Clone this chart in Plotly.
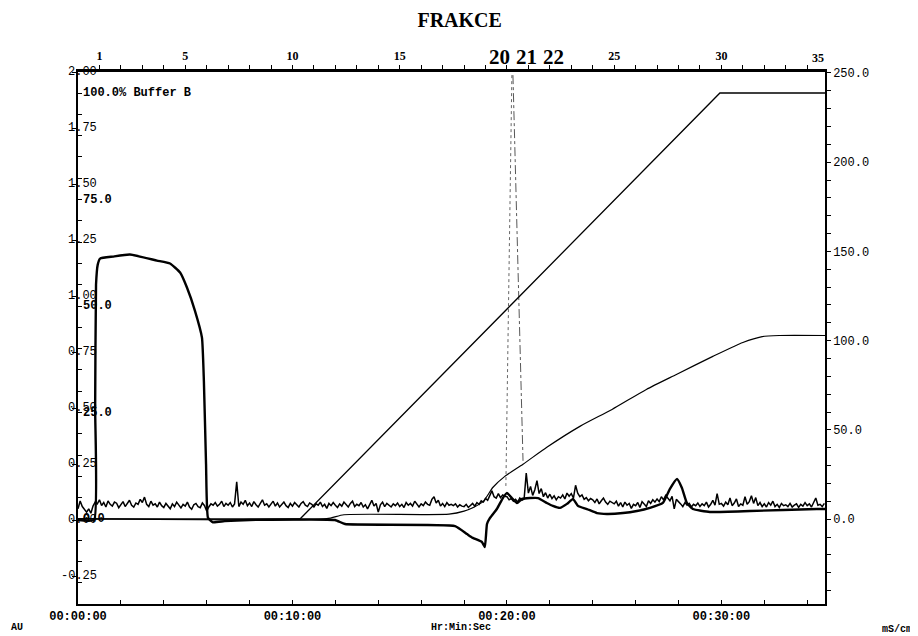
import plotly.graph_objects as go

# ---------------- data ----------------
# UV absorbance (AU), main thick trace
uv_t = [0, 0.75, 0.80, 0.84, 0.92, 1.03, 1.63, 2.42, 3.68, 4.29, 4.76, 5.08, 5.45, 5.78, 5.87, 5.97, 6.06, 6.29,
        6.85, 8.0, 11.98, 12.45, 17.58, 18.14, 18.41, 18.83, 18.97, 19.07, 19.21, 19.53, 19.81, 20.0, 20.23, 20.47,
        20.7, 21.07, 21.45, 21.86, 22.14, 22.47, 22.8, 23.08, 23.31, 23.73, 24.2, 24.66, 25.41, 26.06, 26.67,
        27.27, 27.6, 27.93, 28.16, 28.39, 28.67, 29.46, 31.33, 34.45, 34.83]
uv_au = [0, 0, 0.5, 1.05, 1.14, 1.167, 1.176, 1.185, 1.158, 1.145, 1.105, 1.038, 0.935, 0.814, 0.62, 0.25, 0.01, -0.01,
         -0.005, 0, 0, -0.018, -0.027, -0.063, -0.08, -0.098, -0.121, -0.018, 0.009, 0.049, 0.098, 0.121, 0.098, 0.076,
         0.094, 0.098, 0.098, 0.076, 0.063, 0.054, 0.072, 0.094, 0.063, 0.049, 0.031, 0.027, 0.031, 0.04, 0.054,
         0.076, 0.139, 0.183, 0.143, 0.076, 0.049, 0.036, 0.04, 0.049, 0.049]

# second (noisy) absorbance trace, sampled every 0.1 min
noise_au = [
    0.050, 0.085, 0.060, 0.045, 0.035, 0.050, 0.030, 0.062, 0.080, 0.072,
    0.090, 0.065, 0.078, 0.058, 0.085, 0.070, 0.062, 0.080, 0.075, 0.055,
    0.068, 0.082, 0.060, 0.074, 0.088, 0.066, 0.058, 0.076, 0.070, 0.092,
    0.078, 0.102, 0.070, 0.060, 0.084, 0.066, 0.072, 0.058, 0.080, 0.064,
    0.056, 0.074, 0.062, 0.050, 0.072, 0.060, 0.080, 0.066, 0.054, 0.070,
    0.062, 0.080, 0.058, 0.048, 0.068, 0.074, 0.060, 0.055, 0.076, 0.064,
    0.040, 0.058, 0.072, 0.066, 0.078, 0.062, 0.070, 0.084, 0.060, 0.074,
    0.066, 0.078, 0.058, 0.072, 0.170, 0.060, 0.080, 0.070, 0.088, 0.064,
    0.076, 0.060, 0.082, 0.068, 0.058, 0.074, 0.090, 0.066, 0.072, 0.058,
    0.070, 0.084, 0.062, 0.076, 0.058, 0.068, 0.080, 0.064, 0.056, 0.074,
    0.062, 0.078, 0.068, 0.058, 0.074, 0.082, 0.066, 0.060, 0.076, 0.070,
    0.058, 0.072, 0.066, 0.080, 0.060, 0.070, 0.052, 0.074, 0.064, 0.078,
    0.066, 0.056, 0.072, 0.062, 0.080, 0.068, 0.058, 0.074, 0.084, 0.060,
    0.070, 0.064, 0.078, 0.058, 0.068, 0.050, 0.072, 0.088, 0.062, 0.074,
    0.035, 0.068, 0.080, 0.060, 0.074, 0.066, 0.058, 0.072, 0.064, 0.076,
    0.060, 0.070, 0.056, 0.078, 0.066, 0.074, 0.062, 0.084, 0.068, 0.058,
    0.072, 0.064, 0.080, 0.070, 0.066, 0.092, 0.104, 0.076, 0.088, 0.062,
    0.074, 0.060, 0.078, 0.066, 0.070, 0.064, 0.072, 0.058, 0.068, 0.062,
    0.060, 0.070, 0.056, 0.066, 0.074, 0.062, 0.078, 0.070, 0.086, 0.080,
    0.096, 0.088, 0.110, 0.130, 0.104, 0.098, 0.118, 0.100, 0.112, 0.106,
    0.104, 0.090, 0.096, 0.084, 0.092, 0.080, 0.098, 0.088, 0.094, 0.210,
    0.120, 0.150, 0.110, 0.135, 0.176, 0.118, 0.140, 0.104, 0.122, 0.098,
    0.115, 0.096, 0.108, 0.090, 0.104, 0.098, 0.112, 0.094, 0.120, 0.106,
    0.118, 0.098, 0.155, 0.120, 0.104, 0.112, 0.092, 0.100, 0.086, 0.096,
    0.090, 0.078, 0.094, 0.072, 0.086, 0.098, 0.080, 0.070, 0.084, 0.076,
    0.072, 0.084, 0.062, 0.078, 0.058, 0.080, 0.066, 0.074, 0.052, 0.070,
    0.064, 0.078, 0.056, 0.082, 0.070, 0.060, 0.086, 0.074, 0.090, 0.080,
    0.094, 0.082, 0.104, 0.090, 0.110, 0.098, 0.086, 0.106, 0.050, 0.092,
    0.084, 0.072, 0.060, 0.078, 0.066, 0.074, 0.058, 0.070, 0.064, 0.076,
    0.060, 0.072, 0.064, 0.080, 0.058, 0.070, 0.088, 0.066, 0.118, 0.070,
    0.074, 0.062, 0.080, 0.068, 0.098, 0.064, 0.076, 0.094, 0.060, 0.072,
    0.066, 0.104, 0.070, 0.082, 0.108, 0.074, 0.100, 0.064, 0.078, 0.060,
    0.072, 0.058, 0.078, 0.066, 0.084, 0.060, 0.070, 0.056, 0.074, 0.064,
    0.068, 0.060, 0.074, 0.058, 0.066, 0.072, 0.056, 0.070, 0.062, 0.078,
    0.064, 0.072, 0.058, 0.076, 0.098, 0.066, 0.070, 0.060, 0.074,
]
noise_t = [round(i * 0.1, 1) for i in range(len(noise_au))]

# gradient (% Buffer B)
b_t = [0, 10.35, 29.93, 34.83]
b_pct = [0, 0, 100, 100]

# conductivity (mS/cm)
cond_t = [0, 11.6, 12.4, 17.3, 18.0, 18.5, 18.9, 19.35, 19.9, 20.75, 21.86, 23.4, 24.9, 26.5, 27.9, 29.6,
          31.0, 31.9, 32.7, 34.83]
cond_ms = [0.3, 0.3, 2.5, 2.8, 4.5, 7.0, 10.0, 17.9, 24.0, 30.8, 40.3, 52.0, 61.5, 72.7, 81.1, 91.2,
           99.0, 102.3, 102.9, 102.9]

# fraction marks (dashed lines)
mark1_t = [20.23, 19.95]
mark1_au = [1.986, 0.152]
mark2_t = [20.28, 20.75]
mark2_au = [1.986, 0.264]

# axes / tick labels
au_ticks = [-0.25, 0.0, 0.25, 0.5, 0.75, 1.0, 1.25, 1.5, 1.75, 2.0]
au_labels = ["-0.25", "0.00", "0.25", "0.50", "0.75", "1.00", "1.25", "1.50", "1.75", "2.00"]
pb_ticks = [0, 25, 50, 75, 100]
pb_labels = ["0.0", "25.0", "50.0", "75.0", "100.0% Buffer B"]
time_ticks = list(range(0, 35, 2))
time_labels = {0: "00:00:00", 10: "00:10:00", 20: "00:20:00", 30: "00:30:00"}
frac_ticks = list(range(1, 35))
frac_labels = {1: "1", 5: "5", 10: "10", 15: "15", 25: "25", 30: "30"}
big_fracs = ["20", "21", "22"]
big_frac_pos = [19.63, 20.93, 22.19]
cond_ticks = list(range(-40, 251, 10))
cond_label_vals = [0, 50, 100, 150, 200, 250]

MONO = "Liberation Mono"
SERIF = "Liberation Serif"
X_MAX = 34.83

fig = go.Figure()
fig.add_trace(go.Scatter(x=noise_t, y=noise_au, mode="lines", xaxis="x", yaxis="y",
                         line=dict(color="black", width=1.5), hoverinfo="skip"))
fig.add_trace(go.Scatter(x=b_t, y=b_pct, mode="lines", xaxis="x", yaxis="y3",
                         line=dict(color="black", width=1.3), hoverinfo="skip"))
fig.add_trace(go.Scatter(x=cond_t, y=cond_ms, mode="lines", xaxis="x", yaxis="y2",
                         line=dict(color="black", width=1.2, shape="spline", smoothing=0.6), hoverinfo="skip"))
fig.add_trace(go.Scatter(x=uv_t, y=uv_au, mode="lines", xaxis="x", yaxis="y",
                         line=dict(color="black", width=2.4, shape="spline", smoothing=0.4), hoverinfo="skip"))
fig.add_trace(go.Scatter(x=mark1_t, y=mark1_au, mode="lines", xaxis="x", yaxis="y",
                         line=dict(color="#555", width=0.9, dash="dot"), hoverinfo="skip"))
fig.add_trace(go.Scatter(x=mark2_t, y=mark2_au, mode="lines", xaxis="x", yaxis="y",
                         line=dict(color="#444", width=0.9, dash="dashdot"), hoverinfo="skip"))
# invisible trace to activate top axis
fig.add_trace(go.Scatter(x=[0, X_MAX], y=[None, None], xaxis="x2", yaxis="y", showlegend=False, hoverinfo="skip"))

ann = []
# AU labels, decimal point sitting on the axis line
for v, lab in zip(au_ticks, au_labels):
    k = lab.index(".")
    ann.append(dict(text=lab, x=0, xref="paper", y=v, yref="y", xanchor="left", yanchor="middle",
                    xshift=-(k + 0.5) * 7.2 - 1, showarrow=False,
                    font=dict(family=MONO, size=12, color="black")))
# % Buffer B labels
for v, lab in zip(pb_ticks, pb_labels):
    ann.append(dict(text=lab, x=0, xref="paper", y=v, yref="y3", xanchor="left", yanchor="middle",
                    xshift=3, showarrow=False,
                    font=dict(family=MONO, size=12, color="black", weight="bold")))
# big fraction labels
for lab, xv in zip(big_fracs, big_frac_pos):
    ann.append(dict(text=lab, x=xv, xref="x", y=1.028, yref="paper", xanchor="center", yanchor="middle",
                    showarrow=False, font=dict(family=SERIF, size=21, color="black", weight="bold")))
ann.append(dict(text="35", x=34.5, xref="x", y=1.026, yref="paper", xanchor="center", yanchor="middle",
                showarrow=False, font=dict(family=SERIF, size=12, color="black", weight="bold")))
# unit labels
ann.append(dict(text="AU", x=-0.082, xref="paper", y=-0.045, yref="paper", showarrow=False,
                xanchor="center", yanchor="middle", font=dict(family=MONO, size=10, color="black", weight="bold")))
ann.append(dict(text="Hr:Min:Sec", x=0.513, xref="paper", y=-0.045, yref="paper", showarrow=False,
                xanchor="center", yanchor="middle", font=dict(family=MONO, size=10, color="black", weight="bold")))
ann.append(dict(text="mS/cm", x=1.096, xref="paper", y=-0.047, yref="paper", showarrow=False,
                xanchor="center", yanchor="middle", font=dict(family=MONO, size=10, color="black", weight="bold")))

fig.update_layout(
    width=918, height=636,
    margin=dict(l=70, r=101, t=64, b=40),
    paper_bgcolor="white", plot_bgcolor="white",
    showlegend=False,
    title=dict(text="FRAKCE", x=0.492, y=0.981, xanchor="center", yanchor="middle",
               font=dict(family=SERIF, size=20, color="black", weight="bold")),
    xaxis=dict(range=[0, X_MAX], showgrid=False, zeroline=False, showline=True, linecolor="black",
               linewidth=1.5, ticks="inside", ticklen=4, tickcolor="black", tickwidth=1,
               tickvals=time_ticks, ticktext=[time_labels.get(t, "") for t in time_ticks],
               tickfont=dict(family=MONO, size=12, color="black", weight="bold"), anchor="y"),
    xaxis2=dict(range=[0, X_MAX], overlaying="x", side="top", anchor="y", showgrid=False, zeroline=False,
                showline=True, linecolor="black", linewidth=3, ticks="outside", ticklen=4,
                tickcolor="black", tickwidth=1,
                tickvals=frac_ticks, ticktext=[frac_labels.get(t, "") for t in frac_ticks],
                tickfont=dict(family=SERIF, size=12, color="black", weight="bold")),
    yaxis=dict(range=[-0.375, 2.0], showgrid=False, zeroline=False, showline=True, linecolor="black",
               linewidth=1.5, ticks="outside", ticklen=4, tickcolor="black", tickwidth=1,
               tickvals=au_ticks, showticklabels=False, anchor="x"),
    yaxis3=dict(range=[-19.95, 104.93], overlaying="y", side="left", anchor="x", showgrid=False,
                zeroline=False, showline=False, ticks="inside", ticklen=4, tickcolor="black", tickwidth=1,
                tickvals=list(range(-15, 105, 5)), showticklabels=False),
    yaxis2=dict(range=[-47.5, 250.5], overlaying="y", side="right", anchor="x", showgrid=False,
                zeroline=False, showline=True, linecolor="black", linewidth=1.5, ticks="outside",
                ticklen=4, tickcolor="black", tickwidth=1, tickvals=cond_ticks,
                ticktext=[(f"{t:.1f}" if t in cond_label_vals else "") for t in cond_ticks],
                tickfont=dict(family=MONO, size=12, color="black")),
    annotations=ann,
)

fig.write_html("out.html")
